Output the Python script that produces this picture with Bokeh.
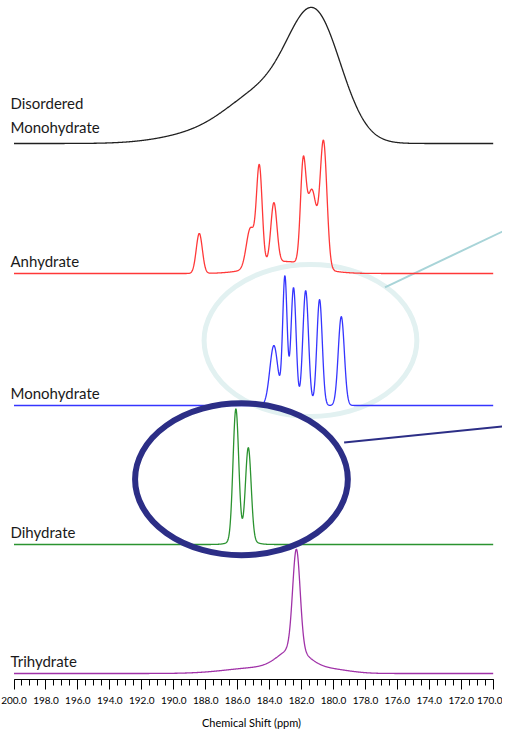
import numpy as np
from bokeh.plotting import figure
from bokeh.models import Range1d, FixedTicker
from bokeh.embed import file_html
from bokeh.resources import INLINE
from bokeh.core.properties import value

# ---------------- data ----------------
tick_values = [200, 198, 196, 194, 192, 190, 188, 186, 184, 182, 180, 178, 176, 174, 172, 170]
tick_labels = ["200.0", "198.0", "196.0", "194.0", "192.0", "190.0", "188.0", "186.0",
               "184.0", "182.0", "180.0", "178.0", "176.0", "174.0", "172.0", "170.0"]
x_title = "Chemical Shift (ppm)"

sample_names = ["Disordered\nMonohydrate", "Anhydrate", "Monohydrate", "Dihydrate", "Trihydrate"]

# Peak tables: centre (ppm), height, full width at half height (ppm)
dis_center = [181.15, 184.50, 188.00]
dis_height = [122, 44, 10]
dis_fwhm = [3.9, 5.0, 6.0]

anh_center = [188.40, 185.20, 184.64, 183.73, 181.90, 181.35, 180.62, 183.00]
anh_height = [40, 40, 98, 60, 93, 76, 125, 12]
anh_fwhm = [0.45, 0.60, 0.42, 0.45, 0.40, 0.70, 0.50, 4.0]

mono_center = [183.73, 183.04, 182.50, 181.74, 180.87, 179.51]
mono_height = [60, 128, 118, 115, 106, 89]
mono_fwhm = [0.60, 0.33, 0.38, 0.42, 0.40, 0.45]

di_center = [186.11, 185.33, 185.70]
di_height = [131, 92, 6]
di_fwhm = [0.42, 0.42, 1.4]

tri_center = [182.32, 182.50, 184.50, 180.30]
tri_height = [100, 20, 6, 4]
tri_fwhm = [0.55, 2.2, 5.0, 3.0]

# ---------------- layout / style ----------------
FRAME_W, FRAME_H = 502, 679
X0_PAGE = 13.5                 # x (px from the figure's left) of 200 ppm
PX_PER_PPM = (492.7 - 13.5) / 30.0
Y_TOP = 683                    # data value at the frame's top edge
Y_BOTTOM = Y_TOP - FRAME_H


def ppm_at(px):
    return 200 - (px - X0_PAGE) / PX_PER_PPM


colors = ["#202020", "#ff3838", "#3535ff", "#2b9330", "#a032a8"]
offsets = [540, 410, 278, 139, 10]
label_lift = [17, 13, 13, 13, 13]
FONT = "Lato"

grid = np.linspace(200, 170, 1501)


def peaks(centers, heights, fwhms):
    y = np.zeros_like(grid)
    for c, h, w in zip(centers, heights, fwhms):
        s = w / 2.3548
        y += h * np.exp(-0.5 * ((grid - c) / s) ** 2)
    return y


curves = [
    peaks(dis_center, dis_height, dis_fwhm),
    peaks(anh_center, anh_height, anh_fwhm),
    peaks(mono_center, mono_height, mono_fwhm),
    peaks(di_center, di_height, di_fwhm),
    peaks(tri_center, tri_height, tri_fwhm),
]

x_lo, x_hi = ppm_at(0), ppm_at(FRAME_W)
p = figure(frame_width=FRAME_W, frame_height=FRAME_H,
           x_range=Range1d(x_lo, x_hi),
           y_range=Range1d(Y_BOTTOM, Y_TOP),
           output_backend="svg", toolbar_location=None,
           y_axis_location=None,
           min_border_left=0, min_border_right=0, min_border_top=0,
           min_border_bottom=0)
p.outline_line_color = None
p.xgrid.grid_line_color = None
p.ygrid.grid_line_color = None
p.background_fill_color = "white"
p.border_fill_color = "white"

# light ellipse around the monohydrate peaks + its connector
cy_c, cy_w, cy_h = (181.44, 343.0), 13.32, 152
p.ellipse(x=[cy_c[0]], y=[cy_c[1]], width=cy_w, height=cy_h,
          fill_alpha=0, line_color="#e2f1f1", line_width=5)
p.line(x=[cy_c[0] - 0.70 * cy_w / 2, x_hi], y=[cy_c[1] + 0.70 * cy_h / 2, 452],
       line_color="#a8d4d8", line_width=2)

# spectra
for ys, off, col in zip(curves, offsets, colors):
    p.line(x=grid, y=ys + off, line_color=col, line_width=1.3)

# sample labels
label_x = ppm_at(10)
for name, off, lift in zip(sample_names, offsets, label_lift):
    lines = name.split("\n")
    n = len(lines)
    for i, ln in enumerate(lines):
        p.text(x=[label_x], y=[off + lift + (n - 1 - i) * 23.5], text=[ln],
               text_font=value(FONT), text_font_size="15px",
               text_color="#1a1a1a", text_baseline="alphabetic", text_align="left")

# dark ellipse around the dihydrate peaks + its connector
nv_c, nv_w, nv_h = (185.76, 204.2), 13.32, 152
p.ellipse(x=[nv_c[0]], y=[nv_c[1]], width=nv_w, height=nv_h,
          fill_alpha=0, line_color="#2c2e86", line_width=6)
p.line(x=[nv_c[0] - 0.965 * nv_w / 2, x_hi], y=[241, 257],
       line_color="#2c2e86", line_width=2)

# axis
ax = p.xaxis[0]
ax.ticker = FixedTicker(ticks=tick_values,
                        minor_ticks=[float(v) for v in np.arange(170, 200.01, 0.5)])
ax.major_label_overrides = {v: lab for v, lab in zip(tick_values, tick_labels)}
ax.bounds = (170, 200)
ax.axis_line_color = "black"
ax.axis_line_width = 1
ax.major_tick_in = 0
ax.major_tick_out = 10
ax.minor_tick_in = 0
ax.minor_tick_out = 6
ax.major_tick_line_color = "black"
ax.minor_tick_line_color = "black"
ax.major_label_text_font = FONT
ax.major_label_text_font_size = "10px"
ax.major_label_text_color = "black"
ax.major_label_standoff = 7
ax.axis_label = x_title
ax.axis_label_text_font = FONT
ax.axis_label_text_font_size = "11px"
ax.axis_label_text_font_style = "normal"
ax.axis_label_text_color = "black"
ax.axis_label_standoff = 9

open("out.html", "w").write(file_html(p, INLINE))
